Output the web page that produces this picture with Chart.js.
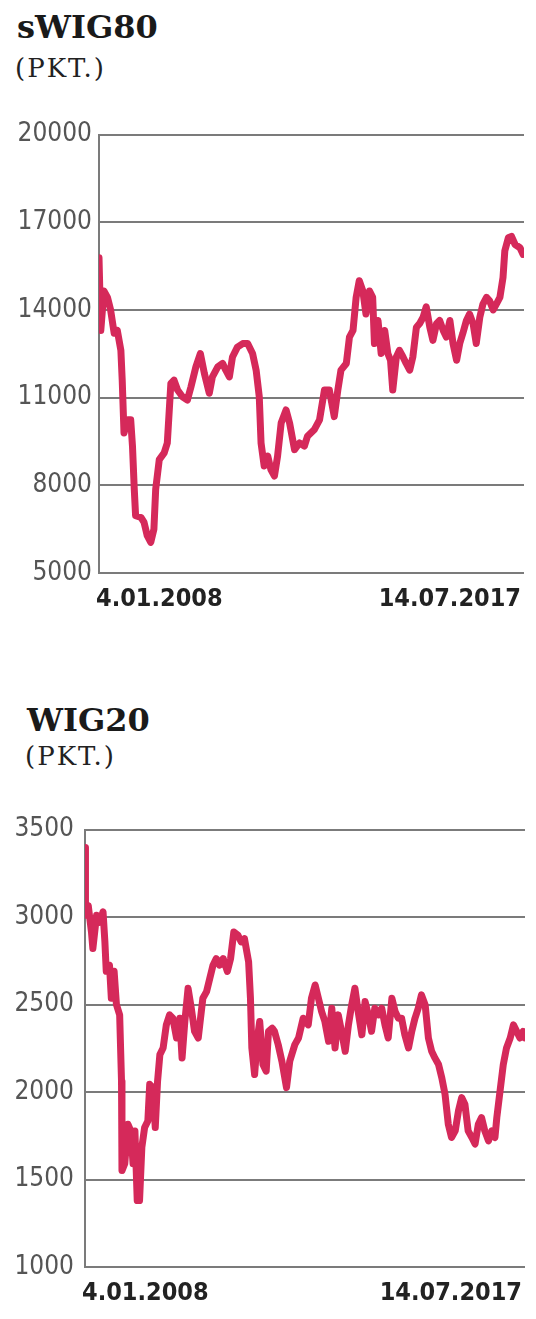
<!DOCTYPE html>
<html>
<head>
<meta charset="utf-8">
<script src="https://cdn.jsdelivr.net/npm/chart.js@4/dist/chart.umd.min.js"></script>
<style>
  html, body { margin: 0; padding: 0; background: #fff; }
  body { width: 536px; height: 1319px; position: relative; overflow: hidden; }
  .title { position: absolute; font-family: 'DejaVu Serif', serif; font-weight: bold; font-size: 32px; line-height: 32px; color: #1a1a1a; }
  .unit { position: absolute; font-family: 'DejaVu Serif', serif; font-size: 26px; line-height: 26px; letter-spacing: 2px; color: #222; }
  canvas { position: absolute; left: 0; }
</style>
</head>
<body>
<div class="title" style="left:17px; top:11px;">sWIG80</div>
<div class="unit" style="left:15px; top:55px;">(PKT.)</div>
<canvas id="swig" width="536" height="506" style="top:112px;"></canvas>

<div class="title" style="left:27px; top:704px;">WIG20</div>
<div class="unit" style="left:25px; top:743px;">(PKT.)</div>
<canvas id="wig" width="536" height="509" style="top:803px;"></canvas>

<script>
// dates at the ends of the x axis
const xTickLabels = ['4.01.2008', '14.07.2017'];
const xStart = 2008.01;
const xEnd = 2017.53;

// sWIG80, time as decimal year
const swigTicks = [5000, 8000, 11000, 14000, 17000, 20000];
const swigYears = [2008.01, 2008.05, 2008.12, 2008.20, 2008.27, 2008.35, 2008.42, 2008.50, 2008.53, 2008.57,
  2008.65, 2008.72, 2008.76, 2008.80, 2008.83, 2008.95, 2009.02, 2009.09, 2009.17, 2009.24,
  2009.28, 2009.36, 2009.47, 2009.54, 2009.62, 2009.69, 2009.77, 2009.88, 2009.99, 2010.07,
  2010.18, 2010.28, 2010.37, 2010.48, 2010.55, 2010.67, 2010.78, 2010.85, 2010.93, 2011.00,
  2011.11, 2011.23, 2011.34, 2011.45, 2011.53, 2011.60, 2011.64, 2011.71, 2011.79, 2011.86,
  2011.94, 2012.01, 2012.09, 2012.20, 2012.28, 2012.39, 2012.50, 2012.61, 2012.68, 2012.83,
  2012.95, 2013.06, 2013.17, 2013.28, 2013.36, 2013.43, 2013.55, 2013.62, 2013.70, 2013.77,
  2013.84, 2013.92, 2013.99, 2014.07, 2014.14, 2014.18, 2014.26, 2014.33, 2014.41, 2014.48,
  2014.54, 2014.59, 2014.67, 2014.74, 2014.82, 2014.89, 2014.97, 2015.04, 2015.12, 2015.19,
  2015.27, 2015.34, 2015.42, 2015.49, 2015.57, 2015.64, 2015.72, 2015.79, 2015.87, 2015.94,
  2016.02, 2016.09, 2016.16, 2016.24, 2016.31, 2016.39, 2016.46, 2016.54, 2016.61, 2016.69,
  2016.76, 2016.84, 2016.91, 2016.99, 2017.06, 2017.10, 2017.18, 2017.25, 2017.33, 2017.44,
  2017.51];
const swigValues = [15790, 13300, 14650, 14430, 14000, 13200, 13300, 12620, 11600, 9790,
  10240, 10240, 9340, 7870, 6960, 6900, 6730, 6280, 6050, 6500,
  7870, 8880, 9110, 9450, 11490, 11600, 11260, 11030, 10920, 11370,
  12050, 12510, 11830, 11150, 11710, 12050, 12170, 11940, 11710, 12390,
  12730, 12850, 12850, 12510, 11940, 11030, 9450, 8660, 9000, 8540,
  8320, 9000, 10130, 10580, 10130, 9220, 9450, 9340, 9680, 9900,
  10240, 11260, 11260, 10350, 11260, 11940, 12170, 13070, 13300, 14430,
  15000, 14650, 13860, 14650, 14430, 12850, 13640, 12510, 13300, 12510,
  12280, 11260, 12390, 12620, 12390, 12170, 11940, 12390, 13410, 13530,
  13750, 14110, 13410, 12960, 13530, 13640, 13300, 13070, 13640, 12850,
  12280, 12850, 13200, 13640, 13860, 13530, 12850, 13750, 14200, 14430,
  14310, 14000, 14200, 14430, 15110, 16020, 16470, 16520, 16240, 16130,
  15900];

// WIG20
const wigTicks = [1000, 1500, 2000, 2500, 3000, 3500];
const wigYears = [2008.01, 2008.02, 2008.08, 2008.15, 2008.18, 2008.26, 2008.33, 2008.40, 2008.44, 2008.47,
  2008.54, 2008.58, 2008.64, 2008.69, 2008.76, 2008.80, 2008.81, 2008.87, 2008.94, 2009.00,
  2009.05, 2009.09, 2009.14, 2009.19, 2009.24, 2009.30, 2009.37, 2009.41, 2009.48, 2009.53,
  2009.58, 2009.63, 2009.70, 2009.77, 2009.84, 2009.91, 2009.99, 2010.06, 2010.11, 2010.17,
  2010.24, 2010.31, 2010.38, 2010.46, 2010.51, 2010.56, 2010.64, 2010.71, 2010.78, 2010.85,
  2010.92, 2011.00, 2011.09, 2011.16, 2011.23, 2011.32, 2011.39, 2011.46, 2011.55, 2011.59,
  2011.62, 2011.68, 2011.74, 2011.79, 2011.86, 2011.93, 2011.98, 2012.06, 2012.11, 2012.19,
  2012.27, 2012.37, 2012.44, 2012.55, 2012.63, 2012.73, 2012.84, 2012.91, 2012.99, 2013.06,
  2013.13, 2013.20, 2013.28, 2013.35, 2013.42, 2013.49, 2013.56, 2013.64, 2013.71, 2013.78,
  2013.85, 2013.92, 2014.00, 2014.07, 2014.14, 2014.21, 2014.28, 2014.36, 2014.43, 2014.50,
  2014.57, 2014.65, 2014.72, 2014.79, 2014.86, 2014.93, 2015.01, 2015.08, 2015.15, 2015.22,
  2015.29, 2015.37, 2015.44, 2015.51, 2015.58, 2015.66, 2015.73, 2015.80, 2015.87, 2015.94,
  2016.02, 2016.09, 2016.16, 2016.23, 2016.30, 2016.38, 2016.45, 2016.52, 2016.59, 2016.66,
  2016.74, 2016.81, 2016.88, 2016.92, 2016.99, 2017.06, 2017.13, 2017.21, 2017.28, 2017.35,
  2017.42, 2017.49, 2017.53];
const wigValues = [3398, 3010, 3066, 2915, 2820, 3010, 2970, 3030, 2860, 2690,
  2725, 2536, 2690, 2500, 2440, 2062, 1551, 1590, 1816, 1778,
  1590, 1778, 1380, 1380, 1684, 1797, 1835, 2044, 2025, 1797,
  2062, 2214, 2252, 2384, 2441, 2422, 2309, 2422, 2195, 2403,
  2593, 2479, 2347, 2309, 2422, 2536, 2574, 2650, 2725, 2763,
  2725, 2763, 2690, 2763, 2915, 2896, 2858, 2877, 2744, 2536,
  2252, 2100, 2309, 2403, 2157, 2119, 2347, 2365, 2347, 2271,
  2176, 2025, 2176, 2271, 2309, 2422, 2384, 2536, 2612, 2536,
  2460, 2403, 2290, 2479, 2252, 2441, 2347, 2233, 2384, 2498,
  2593, 2460, 2327, 2517, 2441, 2347, 2479, 2441, 2479, 2384,
  2309, 2536, 2460, 2422, 2422, 2327, 2252, 2347, 2422, 2479,
  2555, 2498, 2309, 2233, 2195, 2157, 2081, 1987, 1816, 1740,
  1778, 1892, 1968, 1930, 1778, 1740, 1703, 1816, 1854, 1778,
  1721, 1778, 1740, 1854, 2006, 2157, 2252, 2309, 2384, 2347,
  2309, 2347, 2309];

const lineColor = '#d5295a';
const gridColor = '#7b7b7b';
const fontFamily = "'DejaVu Sans Condensed', 'DejaVu Sans', sans-serif";

function makeChart(id, years, values, yTicks, axisWidth, rightPad, labelPad) {
  const points = years.map((x, i) => ({ x: x, y: values[i] }));
  const yMin = yTicks[0];
  const yMax = yTicks[yTicks.length - 1];

  new Chart(document.getElementById(id), {
    type: 'line',
    data: {
      datasets: [{
        data: points,
        borderColor: lineColor,
        borderWidth: 7,
        borderJoinStyle: 'round',
        borderCapStyle: 'round',
        pointRadius: 0,
        tension: 0,
        fill: false
      }]
    },
    options: {
      responsive: false,
      animation: false,
      devicePixelRatio: 1,
      layout: { padding: { left: 0, right: rightPad, top: 14, bottom: 0 } },
      plugins: { legend: { display: false }, tooltip: { enabled: false } },
      scales: {
        x: {
          type: 'linear',
          min: xStart,
          max: xEnd,
          afterBuildTicks: scale => { scale.ticks = [{ value: xStart }, { value: xEnd }]; },
          afterFit: scale => { scale.height = 45; },
          grid: { display: false, drawTicks: false },
          border: { display: false },
          ticks: {
            autoSkip: false,
            maxRotation: 0,
            align: 'inner',
            labelOffset: -3,
            padding: 11,
            color: '#222',
            font: { family: fontFamily, size: 25, weight: 'bold' },
            callback: (v, i) => xTickLabels[i]
          }
        },
        y: {
          min: yMin,
          max: yMax,
          afterBuildTicks: scale => { scale.ticks = yTicks.map(v => ({ value: v })); },
          afterFit: scale => { scale.width = axisWidth; },
          grid: { color: gridColor, lineWidth: 2, drawTicks: false },
          border: { display: true, color: gridColor, width: 2 },
          ticks: {
            padding: labelPad,
            color: '#555',
            font: { family: fontFamily, size: 26 },
            callback: v => String(v)
          }
        }
      }
    }
  });
}

makeChart('swig', swigYears, swigValues, swigTicks, 99, 12, 7);
makeChart('wig', wigYears, wigValues, wigTicks, 85, 11, 11);
</script>
</body>
</html>
